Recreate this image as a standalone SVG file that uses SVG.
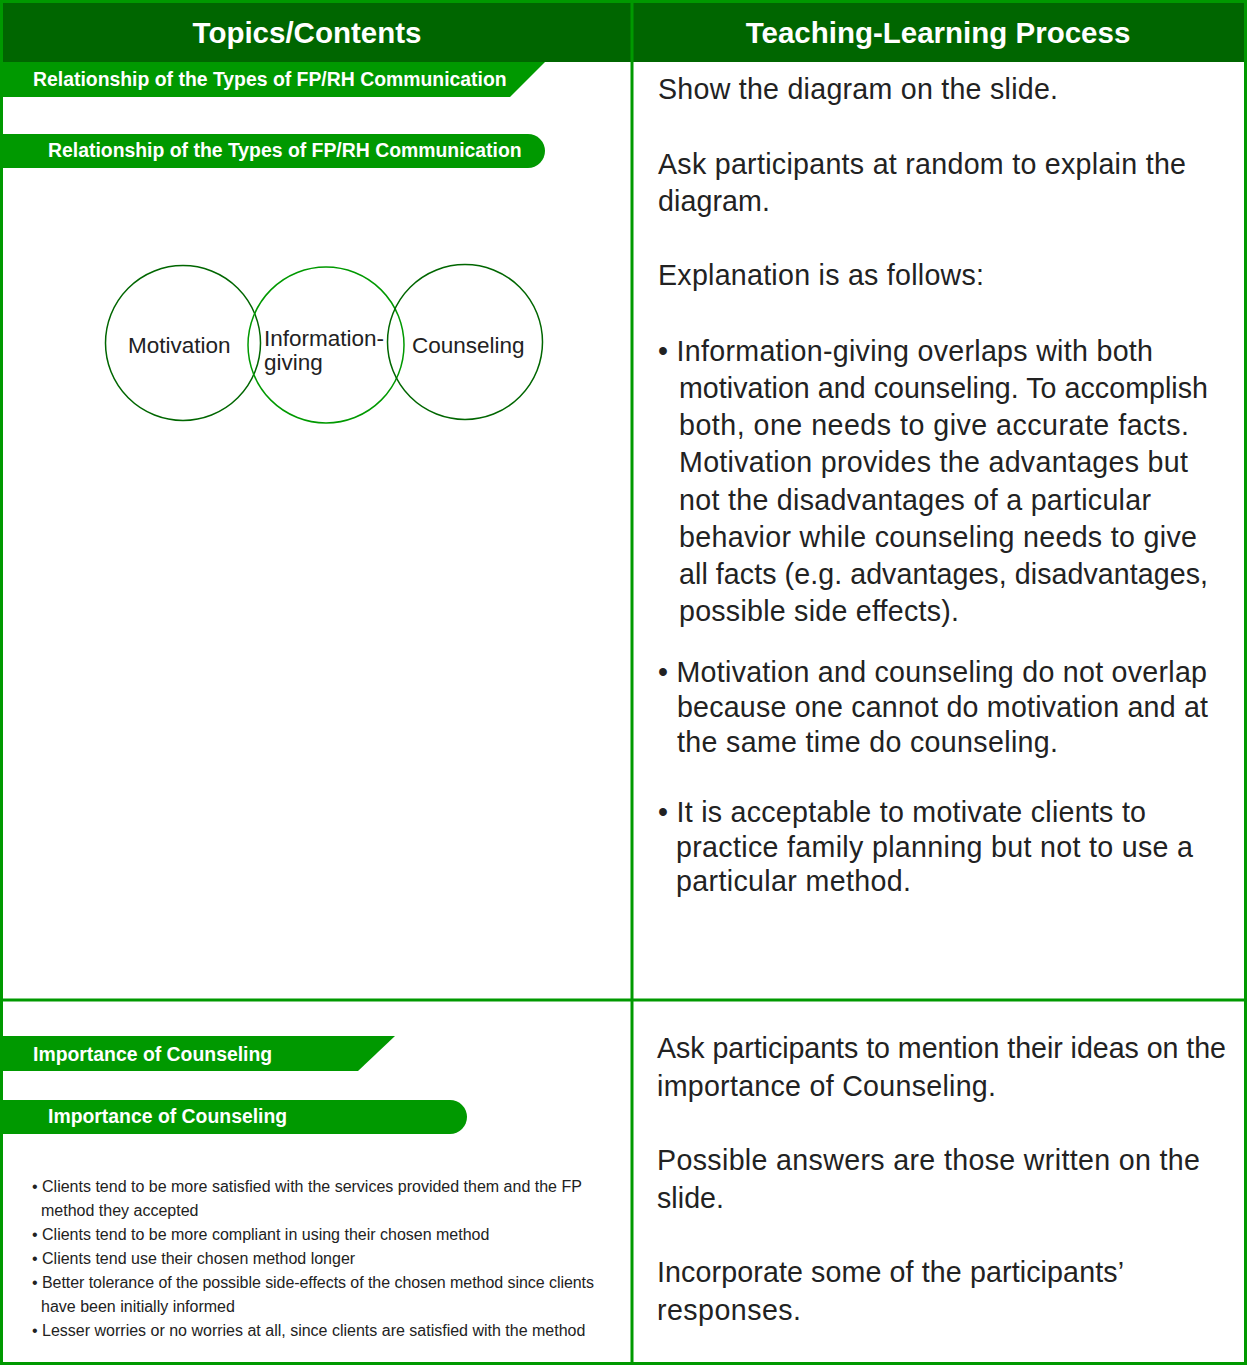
<svg xmlns="http://www.w3.org/2000/svg" width="1247" height="1365" viewBox="0 0 1247 1365">
<style>
.hdr{font-family:"Liberation Sans",Arial,sans-serif;font-weight:bold;font-size:29.5px;fill:#fff;text-anchor:middle}
.ban{font-family:"Liberation Sans",Arial,sans-serif;font-weight:bold;font-size:19.4px;fill:#fff}
.body{font-family:"Liberation Sans",Arial,sans-serif;font-size:28.6px;fill:#222}
.lbl{font-family:"Liberation Sans",Arial,sans-serif;font-size:22.5px;fill:#222}
.sm{font-family:"Liberation Sans",Arial,sans-serif;font-size:16px;fill:#222}
.bfill{fill:#009900}
.circ{fill:none;stroke-width:1.5}
</style>
<rect x="0" y="0" width="1247" height="1365" fill="#fff"/>
<g id="header">
<rect x="0" y="0" width="1247" height="62" fill="#006600"/>
<text class="hdr" x="307" y="43">Topics/Contents</text>
<text class="hdr" x="938" y="43">Teaching-Learning Process</text>
</g>
<g id="grid" fill="none" stroke="#009900">
<rect x="1.5" y="1.5" width="1244" height="1362" stroke-width="3"/>
<line x1="632" y1="0" x2="632" y2="1365" stroke-width="3"/>
<line x1="0" y1="1000" x2="1247" y2="1000" stroke-width="3"/>
</g>
<g id="banner1">
<polygon class="bfill" points="2,62 545,62 510,97 2,97"/>
<text class="ban" x="33" y="86">Relationship of the Types of FP/RH Communication</text>
</g>
<g id="banner2">
<path class="bfill" d="M2,134 H528 A17,17 0 0 1 528,168 H2 Z"/>
<text class="ban" x="48" y="157">Relationship of the Types of FP/RH Communication</text>
</g>
<g id="motivation">
<circle class="circ" cx="183" cy="343" r="77.5" stroke="#006600"/>
<text class="lbl" x="128" y="353">Motivation</text>
</g>
<g id="information-giving">
<circle class="circ" cx="326" cy="345" r="78" stroke="#009900"/>
<text class="lbl" x="264" y="346">Information-</text>
<text class="lbl" x="264" y="370">giving</text>
</g>
<g id="counseling">
<circle class="circ" cx="465" cy="342" r="77.5" stroke="#006600"/>
<text class="lbl" x="412" y="353">Counseling</text>
</g>
<g id="connectors"></g>
<g id="process1">
<text class="body" x="658" y="99" textLength="400">Show the diagram on the slide.</text>
<text class="body" x="658" y="174" textLength="528">Ask participants at random to explain the</text>
<text class="body" x="658" y="211" textLength="112">diagram.</text>
<text class="body" x="658" y="285" textLength="326">Explanation is as follows:</text>
<text class="body" x="658" y="361" textLength="495">• Information-giving overlaps with both</text>
<text class="body" x="679" y="398" textLength="529">motivation and counseling. To accomplish</text>
<text class="body" x="679" y="435" textLength="510">both, one needs to give accurate facts.</text>
<text class="body" x="679" y="472" textLength="509">Motivation provides the advantages but</text>
<text class="body" x="679" y="510" textLength="472">not the disadvantages of a particular</text>
<text class="body" x="679" y="547" textLength="518">behavior while counseling needs to give</text>
<text class="body" x="679" y="584" textLength="529">all facts (e.g. advantages, disadvantages,</text>
<text class="body" x="679" y="621" textLength="280">possible side effects).</text>
<text class="body" x="658" y="682" textLength="549">• Motivation and counseling do not overlap</text>
<text class="body" x="677" y="717" textLength="531">because one cannot do motivation and at</text>
<text class="body" x="677" y="752" textLength="381">the same time do counseling.</text>
<text class="body" x="658" y="822" textLength="488">• It is acceptable to motivate clients to</text>
<text class="body" x="676" y="857" textLength="517">practice family planning but not to use a</text>
<text class="body" x="676" y="891" textLength="235">particular method.</text>
</g>
<g id="banner3">
<polygon class="bfill" points="2,1036 395,1036 358,1071 2,1071"/>
<text class="ban" x="33" y="1061">Importance of Counseling</text>
</g>
<g id="banner4">
<path class="bfill" d="M2,1100 H450 A17,17 0 0 1 450,1134 H2 Z"/>
<text class="ban" x="48" y="1123">Importance of Counseling</text>
</g>
<g id="importance-list">
<text class="sm" x="32" y="1192">• Clients tend to be more satisfied with the services provided them and the FP</text>
<text class="sm" x="41" y="1216">method they accepted</text>
<text class="sm" x="32" y="1240">• Clients tend to be more compliant in using their chosen method</text>
<text class="sm" x="32" y="1264">• Clients tend use their chosen method longer</text>
<text class="sm" x="32" y="1288" textLength="562">• Better tolerance of the possible side-effects of the chosen method since clients</text>
<text class="sm" x="41" y="1312">have been initially informed</text>
<text class="sm" x="32" y="1336">• Lesser worries or no worries at all, since clients are satisfied with the method</text>
</g>
<g id="process2">
<text class="body" x="657" y="1058" textLength="569">Ask participants to mention their ideas on the</text>
<text class="body" x="657" y="1096" textLength="339">importance of Counseling.</text>
<text class="body" x="657" y="1170" textLength="543">Possible answers are those written on the</text>
<text class="body" x="657" y="1208" textLength="67">slide.</text>
<text class="body" x="657" y="1282" textLength="467">Incorporate some of the participants’</text>
<text class="body" x="657" y="1320" textLength="144">responses.</text>
</g>
</svg>
